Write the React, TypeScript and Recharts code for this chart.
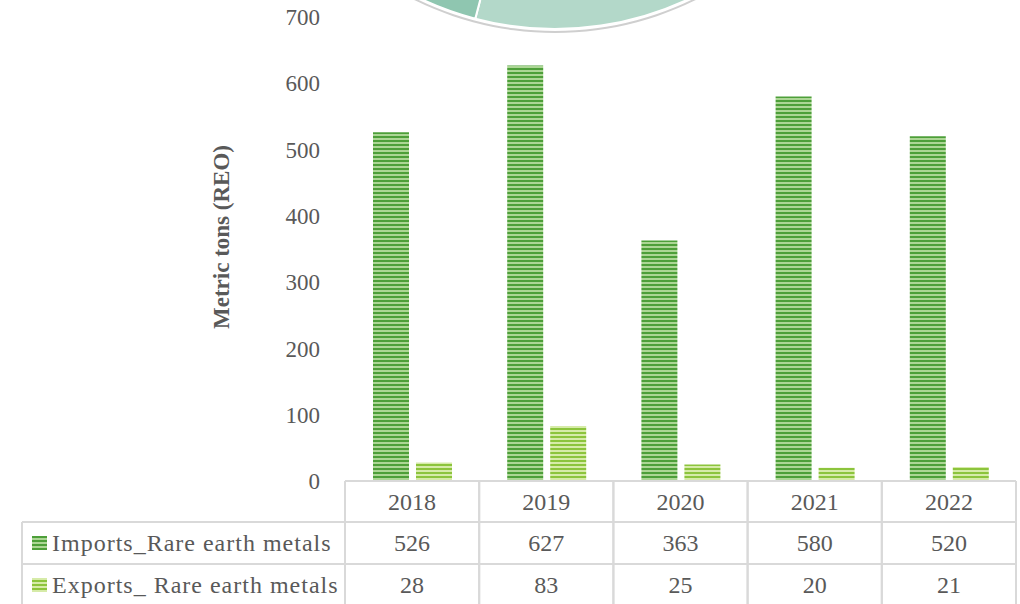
import { Bar, BarChart, Cell, Pie, PieChart, XAxis, YAxis, Label } from 'recharts';

const years = ['2018', '2019', '2020', '2021', '2022'];
const importsTons = [526, 627, 363, 580, 520];
const exportsTons = [28, 83, 25, 20, 21];
const yTicks = [0, 100, 200, 300, 400, 500, 600, 700];
const seriesNames = ['Imports_Rare earth metals', 'Exports_ Rare earth metals'];

// shares of the pie that sits above the bar chart (only its lower edge is on screen)
const pieShares = [41.2, 12.9, 45.9];
const pieColors = ['#c4e2d5', '#b3d8c9', '#8fc6b0'];

const W = 1020;
const H = 604;
const PLOT_LEFT = 345;
const PLOT_RIGHT = 1016;
const PLOT_TOP = 17;
const TABLE_H = 123;
const BAND = (PLOT_RIGHT - PLOT_LEFT) / years.length;

const FONT = "'Liberation Serif', 'Times New Roman', serif";
const TEXT = '#595959';
const GRID = '#d9d9d9';

const chartData = years.map((year, i) => ({
    year,
    imports: importsTons[i],
    exports: exportsTons[i],
}));

const tableRows = [importsTons, exportsTons];
const legendFills = ['url(#stripesImports)', 'url(#stripesExports)'];

// Each x-axis tick draws one column of the data table under the plot
const TableColumn = ({ x, y, payload }: any) => {
    const i = years.indexOf(payload.value);
    const left = x - BAND / 2;
    const right = x + BAND / 2;
    const rowTops = [y, y + 41, y + 83];
    return (
        <g fontFamily={FONT} fontSize={24} fill={TEXT}>
            <line x1={left} x2={left} y1={y} y2={y + TABLE_H} stroke={GRID} strokeWidth={2} />
            <line x1={right} x2={right} y1={y} y2={y + TABLE_H} stroke={GRID} strokeWidth={2} />
            <line x1={left} x2={right} y1={rowTops[1]} y2={rowTops[1]} stroke={GRID} strokeWidth={2} />
            <line x1={left} x2={right} y1={rowTops[2]} y2={rowTops[2]} stroke={GRID} strokeWidth={2} />
            <text x={x} y={rowTops[0] + 21} textAnchor="middle" dominantBaseline="central">
                {payload.value}
            </text>
            {tableRows.map((row, r) => (
                <text
                    key={r}
                    x={x}
                    y={rowTops[r + 1] + 21}
                    textAnchor="middle"
                    dominantBaseline="central"
                >
                    {row[i]}
                </text>
            ))}
            {i === 0 && (
                <g>
                    <line x1={22} x2={left} y1={rowTops[1]} y2={rowTops[1]} stroke={GRID} strokeWidth={2} />
                    <line x1={22} x2={left} y1={rowTops[2]} y2={rowTops[2]} stroke={GRID} strokeWidth={2} />
                    <line x1={22} x2={22} y1={rowTops[1]} y2={y + TABLE_H} stroke={GRID} strokeWidth={2} />
                    {seriesNames.map((name, r) => (
                        <g key={name}>
                            <rect
                                x={32}
                                y={rowTops[r + 1] + 14}
                                width={15}
                                height={14}
                                fill={legendFills[r]}
                            />
                            <text
                                x={52}
                                y={rowTops[r + 1] + 21}
                                dominantBaseline="central"
                                letterSpacing={1}
                            >
                                {name}
                            </text>
                        </g>
                    ))}
                </g>
            )}
        </g>
    );
};

// Rotated y-axis title, placed inside the axis box
const AxisTitle = ({ viewBox }: any) => {
    const cx = viewBox.x + 221;
    const cy = viewBox.y + viewBox.height / 2 - 12;
    return (
        <text
            x={cx}
            y={cy}
            transform={`rotate(-90 ${cx} ${cy})`}
            textAnchor="middle"
            dominantBaseline="central"
            fontFamily={FONT}
            fontSize={23}
            fontWeight={700}
            fill={TEXT}
        >
            Metric tons (REO)
        </text>
    );
};

export default function App() {
    return (
        <div style={{ position: 'absolute', left: 0, top: 0, width: W, height: H, background: '#fff' }}>
            <div style={{ position: 'absolute', left: 0, top: 0 }}>
                <BarChart
                    width={W}
                    height={H}
                    data={chartData}
                    margin={{ top: PLOT_TOP, right: W - PLOT_RIGHT, left: 0, bottom: 0 }}
                    barSize={36}
                    barGap={7}
                >
                    <defs>
                        <pattern id="stripesImports" patternUnits="userSpaceOnUse" width={4} height={4}>
                            <rect width={4} height={4} fill="#acd695" />
                            <rect width={4} height={2} fill="#4d9f39" />
                        </pattern>
                        <pattern id="stripesExports" patternUnits="userSpaceOnUse" width={4} height={4}>
                            <rect width={4} height={4} fill="#d6eba8" />
                            <rect width={4} height={2} fill="#8cc43c" />
                        </pattern>
                    </defs>
                    <XAxis
                        dataKey="year"
                        height={TABLE_H}
                        axisLine={{ stroke: GRID, strokeWidth: 2 }}
                        tickLine={false}
                        tickSize={0}
                        tickMargin={0}
                        interval={0}
                        tick={<TableColumn />}
                    />
                    <YAxis
                        width={PLOT_LEFT}
                        domain={[0, 700]}
                        ticks={yTicks}
                        axisLine={false}
                        tickLine={false}
                        tickSize={0}
                        tickMargin={25}
                        tick={{ fill: TEXT, fontSize: 23, fontFamily: FONT }}
                    >
                        <Label content={<AxisTitle />} />
                    </YAxis>
                    <Bar dataKey="imports" name={seriesNames[0]} fill="url(#stripesImports)" isAnimationActive={false} />
                    <Bar dataKey="exports" name={seriesNames[1]} fill="url(#stripesExports)" isAnimationActive={false} />
                </BarChart>
            </div>
            <div style={{ position: 'absolute', left: 0, top: 0, pointerEvents: 'none' }}>
                <PieChart width={W} height={60}>
                    <Pie
                        data={[{ value: 1 }]}
                        dataKey="value"
                        cx={550}
                        cy={-289}
                        innerRadius={315}
                        outerRadius={317}
                        stroke="none"
                        fill="#cfcfcf"
                        isAnimationActive={false}
                    />
                    <Pie
                        data={pieShares.map((value, i) => ({ name: `s${i}`, value }))}
                        dataKey="value"
                        cx={550}
                        cy={-289}
                        outerRadius={313}
                        startAngle={90}
                        endAngle={-270}
                        stroke="#ffffff"
                        strokeWidth={2}
                        isAnimationActive={false}
                    >
                        {pieShares.map((_, i) => (
                            <Cell key={i} fill={pieColors[i]} />
                        ))}
                    </Pie>
                </PieChart>
            </div>
        </div>
    );
}
